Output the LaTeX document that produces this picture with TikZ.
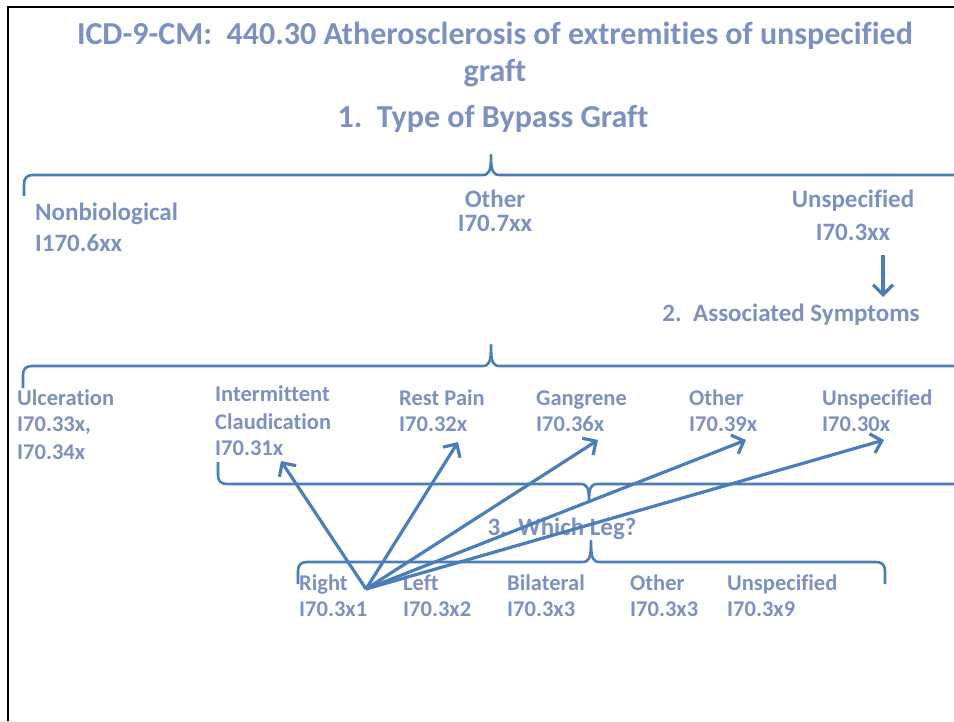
\documentclass[tikz,border=0pt]{standalone}
\usepackage{fontspec}
\setmainfont{Carlito}[Ligatures=NoCommon]
\usetikzlibrary{arrows.meta}
\definecolor{txt}{RGB}{124,144,194}
\definecolor{ln}{RGB}{74,126,187}
\begin{document}
\begin{tikzpicture}[x=1pt,y=-1pt,
  lbl/.style={font=\bfseries\fontsize{22.5}{27}\selectfont, text=txt, inner sep=0pt, anchor=base west},
  lblb/.style={lbl, font=\bfseries\fontsize{25}{30}\selectfont},
  ttl/.style={font=\bfseries\fontsize{32}{38}\selectfont, text=txt, inner sep=0pt, anchor=base},
  bracepath/.style={draw=ln, line width=2.6pt, line join=round},
  conn/.style={draw=ln, line width=3.2pt, -{Straight Barb[length=10pt,width=20pt,line width=3.2pt]}}]
\useasboundingbox (0,0) rectangle (954,721);
% frame
\draw[line width=2pt] (8,721) -- (8,7) -- (954,7);
% titles
\node[ttl] (t1) at (495,44) {ICD-9-CM:\ \ 440.30 Atherosclerosis of extremities of unspecified};
\node[ttl] (t2) at (495,81) {graft};
\node[ttl] (t3) at (493,127) {1.\ \ Type of Bypass Graft};
% brace 1
\draw[bracepath] (24,196) -- (24,184) .. controls (24,178) and (27,175) .. (33,175) -- (482,175) .. controls (489,175) and (491,172) .. (491,155) .. controls (491,172) and (493,175) .. (500,175) -- (960,175);
% level 1
\node[lblb] (nb1) at (35,220) {Nonbiological};
\node[lblb] (nb2) at (35,251) {I170.6xx};
\node[lblb,anchor=base] (ot1) at (495,207) {Other};
\node[lblb,anchor=base] (ot2) at (495,231) {I70.7xx};
\node[lblb,anchor=base] (un1) at (853,207) {Unspecified};
\node[lblb,anchor=base] (un2) at (853,240) {I70.3xx};
\node[lblb,anchor=base] (as) at (791,321) {2.\ \ Associated Symptoms};
\coordinate (dA) at (883,255);
\coordinate (dB) at (883,297);
\draw[conn] (dA) -- (dB);
% brace 2
\draw[bracepath] (23,388) -- (23,375) .. controls (23,369) and (26,366) .. (32,366) -- (482,366) .. controls (489,366) and (491,363) .. (491,345) .. controls (491,363) and (493,366) .. (500,366) -- (960,366);
% level 2
\node[lbl] (ul1) at (17,405) {Ulceration};
\node[lbl] (ul2) at (17,431) {I70.33x,};
\node[lbl] (ul3) at (17,459) {I70.34x};
\node[lbl] (ic1) at (215,401) {Intermittent};
\node[lbl] (ic2) at (215,429) {Claudication};
\node[lbl] (ic3) at (215,455) {I70.31x};
\node[lbl] (rp1) at (399,405) {Rest Pain};
\node[lbl] (rp2) at (399,431) {I70.32x};
\node[lbl] (ga1) at (536,405) {Gangrene};
\node[lbl] (ga2) at (536,431) {I70.36x};
\node[lbl] (ot3) at (689,405) {Other};
\node[lbl] (ot4) at (689,431) {I70.39x};
\node[lbl] (un3) at (822,405) {Unspecified};
\node[lbl] (un4) at (822,431) {I70.30x};
% brace 3 (flipped)
\draw[bracepath] (218,462) -- (218,475) .. controls (218,481) and (221,484) .. (227,484) -- (580,484) .. controls (587,484) and (589,487) .. (589,502) .. controls (589,487) and (591,484) .. (598,484) -- (960,484);
\node[lblb,anchor=base] (wl) at (562,535) {3.\ \ Which Leg?};
% brace 4
\draw[bracepath] (298,584) -- (298,571) .. controls (298,565) and (301,562) .. (307,562) -- (582,562) .. controls (589,562) and (591,559) .. (591,541) .. controls (591,559) and (593,562) .. (600,562) -- (876,562) .. controls (882,562) and (885,565) .. (885,571) -- (885,584);
% level 3
\node[lbl] (r1) at (299,590) {Right};
\node[lbl] (r2) at (299,616) {I70.3x1};
\node[lbl] (l1) at (403,590) {Left};
\node[lbl] (l2) at (403,616) {I70.3x2};
\node[lbl] (b1) at (507,590) {Bilateral};
\node[lbl] (b2) at (507,616) {I70.3x3};
\node[lbl] (o1) at (630,590) {Other};
\node[lbl] (o2) at (630,616) {I70.3x3};
\node[lbl] (u1) at (727,590) {Unspecified};
\node[lbl] (u2) at (727,616) {I70.3x9};
% arrows
\coordinate (src) at (366,589);
\coordinate (hIC) at (281,461);
\coordinate (hRP) at (458,442);
\coordinate (hGA) at (598,440);
\coordinate (hOT) at (746,440);
\coordinate (hUN) at (884,440);
\draw[conn] (src) -- (hIC);
\draw[conn] (src) -- (hRP);
\draw[conn] (src) -- (hGA);
\draw[conn] (src) -- (hOT);
\draw[conn] (src) -- (hUN);
\end{tikzpicture}
\end{document}
